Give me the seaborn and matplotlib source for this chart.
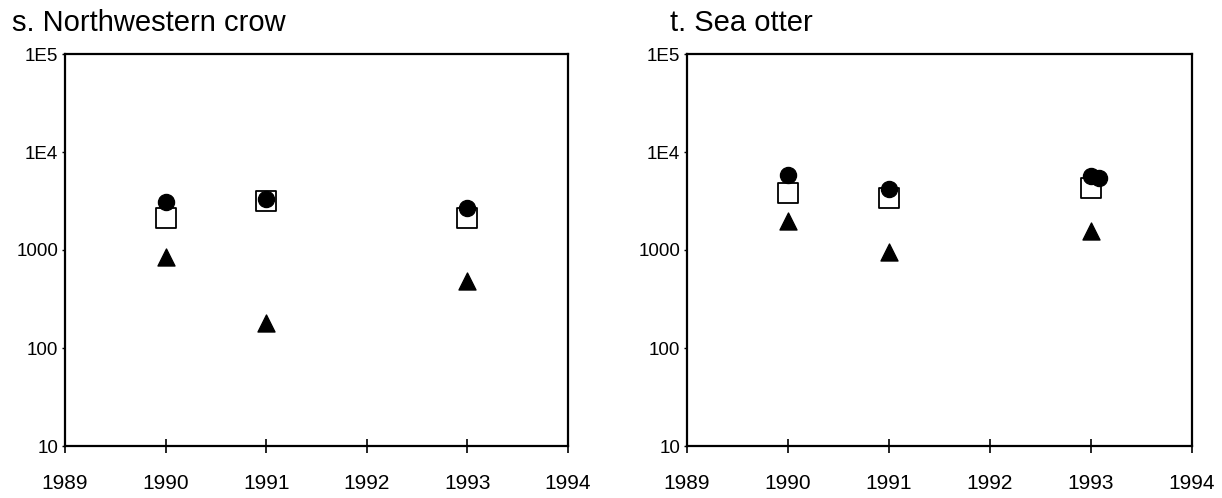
import numpy as np
import pandas as pd
import matplotlib
matplotlib.use("Agg")
import matplotlib.pyplot as plt
import seaborn as sns
from matplotlib.ticker import FixedLocator, FixedFormatter

sns.set_style("white")
plt.rcParams['font.family'] = ['Liberation Sans', 'DejaVu Sans']
plt.rcParams['text.color'] = 'black'

# values
crow_years = [1990, 1991, 1993]
crow_circle = [3120, 3330, 2690]
crow_square = [2130, 3170, 2130]
crow_triangle = [843, 182, 481]

otter_circle_years = [1990, 1991, 1993, 1993.08]
otter_circle = [5830, 4200, 5700, 5440]
otter_square_years = [1990, 1991, 1993]
otter_square = [3830, 3360, 4300]
otter_triangle_years = [1990, 1991, 1993]
otter_triangle = [1960, 949, 1570]

year_ticks = [1989, 1990, 1991, 1992, 1993, 1994]
y_ticks = [10, 100, 1000, 1e4, 1e5]
y_labels = ["10", "100", "1000", "1E4", "1E5"]

fig = plt.figure(figsize=(12.22, 4.98), dpi=100)
ax1 = fig.add_axes([65 / 1222, 1 - 446 / 498, 503 / 1222, 392 / 498])
ax2 = fig.add_axes([687 / 1222, 1 - 446 / 498, 505 / 1222, 392 / 498])


def draw_panel(ax, sq_x, sq_y, ci_x, ci_y, tr_x, tr_y):
    sq = pd.DataFrame({"year": sq_x, "value": sq_y})
    ci = pd.DataFrame({"year": ci_x, "value": ci_y})
    tr = pd.DataFrame({"year": tr_x, "value": tr_y})
    # open squares underneath, filled circles and triangles on top
    sns.scatterplot(data=sq, x="year", y="value", ax=ax, marker="s", s=200,
                    facecolor="white", edgecolor="black", linewidth=1.3, zorder=3)
    sns.scatterplot(data=ci, x="year", y="value", ax=ax, marker="o", s=135,
                    color="black", edgecolor="black", zorder=4)
    sns.scatterplot(data=tr, x="year", y="value", ax=ax, marker="^", s=150,
                    color="black", edgecolor="black", zorder=4)
    ax.set_yscale("log")
    ax.set_xlim(1989, 1994)
    ax.set_ylim(10, 1e5)
    ax.xaxis.set_major_locator(FixedLocator(year_ticks))
    ax.set_xticklabels([str(y) for y in year_ticks])
    ax.yaxis.set_major_locator(FixedLocator(y_ticks))
    ax.yaxis.set_major_formatter(FixedFormatter(y_labels))
    ax.yaxis.set_minor_locator(FixedLocator([]))
    ax.set_xlabel("")
    ax.set_ylabel("")
    for sp in ax.spines.values():
        sp.set_visible(True)
        sp.set_color("black")
        sp.set_linewidth(1.6)
    ax.tick_params(axis="x", bottom=True, direction="inout", length=10, width=1.2,
                   labelsize=15, pad=15, colors="black")
    ax.tick_params(axis="y", left=True, direction="out", length=2, width=1.0,
                   labelsize=13.5, pad=3, colors="black")


draw_panel(ax1, crow_years, crow_square, crow_years, crow_circle,
           crow_years, crow_triangle)
draw_panel(ax2, otter_square_years, otter_square, otter_circle_years,
           otter_circle, otter_triangle_years, otter_triangle)

fig.text(12 / 1222, 1 - 31 / 498, "s. Northwestern crow", fontsize=21,
         color="black", ha="left", va="baseline")
fig.text(670 / 1222, 1 - 31 / 498, "t. Sea otter", fontsize=21,
         color="black", ha="left", va="baseline")

fig.savefig("out.png", dpi=100)
